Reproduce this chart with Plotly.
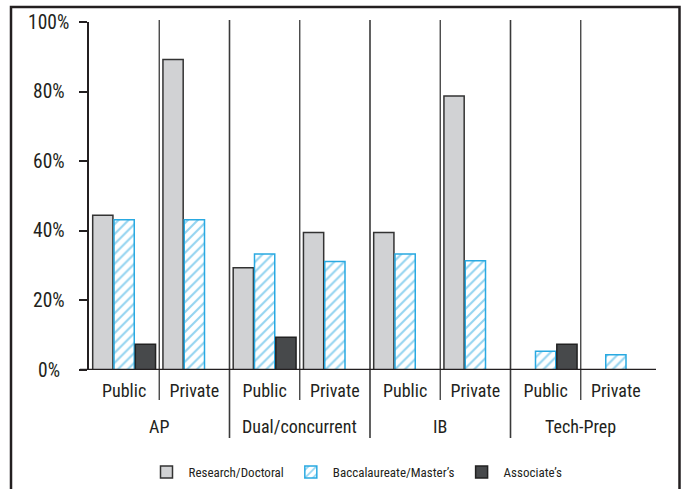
import plotly.graph_objects as go

# ---- data ----
groups = ["AP", "Dual/concurrent", "IB", "Tech-Prep"]
sectors = ["Public", "Private"]
series_names = ["Research/Doctoral", "Baccalaureate/Master\u2019s", "Associate\u2019s"]
research = [44.5, 89.2, 29.4, 39.5, 39.5, 78.7, None, None]
bacc = [43.2, 43.2, 33.3, 31.2, 33.3, 31.4, 5.4, 4.4]
assoc = [7.4, None, 9.4, None, None, None, 7.4, None]
y_ticks = [0, 20, 40, 60, 80, 100]
y_tick_labels = ["0%", "20%", "40%", "60%", "80%", "100%"]

FONT = "Roboto Condensed, Liberation Sans Narrow, DejaVu Sans Condensed, sans-serif"
INK = "#231f20"
BLUE = "#29a9e1"
FS = 18
YFS = 19.5
LFS = 13

cats = [f"{g}|{s}" for g in groups for s in sectors]
sub_labels = [s for g in groups for s in sectors]

fig = go.Figure()
fig.add_trace(go.Bar(
    x=cats, y=research, name=series_names[0],
    marker=dict(color="#d1d2d4", line=dict(color="#333333", width=1.5)),
))
fig.add_trace(go.Bar(
    x=cats, y=bacc, name=series_names[1],
    marker=dict(color="white", line=dict(color=BLUE, width=1.5),
                pattern=dict(shape="/", fgcolor=BLUE, bgcolor="white", size=7, solidity=0.3)),
))
fig.add_trace(go.Bar(
    x=cats, y=assoc, name=series_names[2],
    marker=dict(color="#47494b", line=dict(color="#222222", width=1.5)),
))

# plot geometry (pixels) -> paper helpers
L, R, T, B = 89, 30, 22, 119
W, H = 681 - L - R, 489 - T - B

def py(px):
    return (489 - B - px) / H

def pxx(px):
    return (px - L) / W

shapes = []
n = len(cats)
for k in range(n - 1):
    is_group = (k % 2 == 1)
    shapes.append(dict(
        type="line", xref="x", yref="paper",
        x0=k + 0.5, x1=k + 0.5, y0=py(438 if is_group else 400), y1=py(20),
        line=dict(color="#3a3a3a", width=1.6 if is_group else 1.3),
    ))
# baseline
shapes.append(dict(type="line", xref="paper", yref="y", x0=pxx(80), x1=pxx(656),
                   y0=0, y1=0, line=dict(color=INK, width=2.5)))
# outer frame
shapes.append(dict(type="rect", xref="paper", yref="paper", x0=pxx(11), x1=pxx(679.5),
                   y0=py(495), y1=py(7), line=dict(color=INK, width=2.5)))

annotations = []
for i, g in enumerate(groups):
    annotations.append(dict(
        x=2 * i + 0.5, xref="x", y=py(426), yref="paper", text=g, showarrow=False,
        xanchor="center", yanchor="middle", font=dict(family=FONT, size=FS, color=INK),
    ))
for v, lab in zip(y_ticks, y_tick_labels):
    annotations.append(dict(
        x=pxx(49), xref="paper", y=v, yref="y", text=lab, showarrow=False,
        xanchor="center", yanchor="middle", font=dict(family=FONT, size=YFS, color=INK),
    ))

fig.update_layout(
    width=681, height=489,
    margin=dict(l=L, r=R, t=T, b=B, pad=0, autoexpand=False),
    paper_bgcolor="white", plot_bgcolor="white",
    barmode="group", bargap=0.09, bargroupgap=0.05,
    font=dict(family=FONT, size=FS, color=INK),
    shapes=shapes, annotations=annotations,
    legend=dict(orientation="h", x=pxx(356), xanchor="center", y=py(472), yanchor="middle",
                font=dict(family=FONT, size=LFS, color=INK), traceorder="normal",
                itemwidth=34, bgcolor="rgba(0,0,0,0)"),
    showlegend=True,
)
fig.update_xaxes(
    type="category", categoryorder="array", categoryarray=cats,
    tickmode="array", tickvals=cats, ticktext=sub_labels,
    range=[-0.5, n - 0.5], showline=False, showgrid=False, zeroline=False,
    ticks="", ticklabelstandoff=8, tickfont=dict(family=FONT, size=FS, color=INK), fixedrange=True,
)
fig.update_yaxes(
    range=[0, 100], tickvals=y_ticks, showticklabels=False,
    ticks="outside", ticklen=8, tickwidth=1.5, tickcolor=INK,
    showline=True, linewidth=1.5, linecolor=INK,
    showgrid=False, zeroline=False, fixedrange=True,
)

fig.write_html("out.html", config={"displayModeBar": False},
               post_script="document.body.style.margin='0';")
